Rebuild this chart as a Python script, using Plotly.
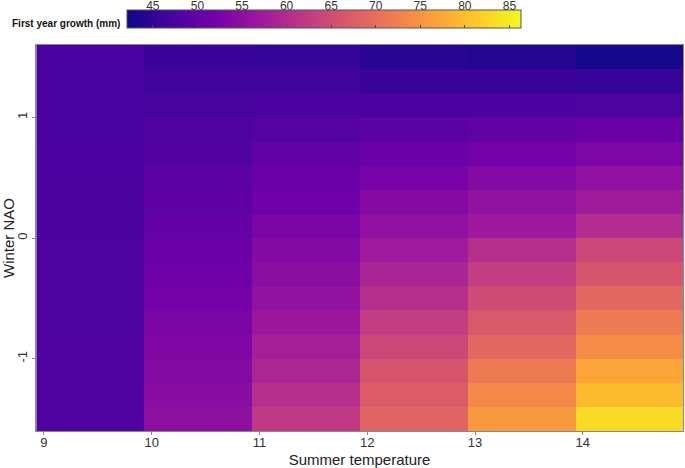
import numpy as np
import plotly.graph_objects as go

# Summer temperature (column centres) and winter NAO (row centres)
temps = [9.43, 10.43, 11.43, 12.43, 13.43, 14.43]
nao = [1.5, 1.3, 1.1, 0.9, 0.7, 0.5, 0.3, 0.1, -0.1, -0.3, -0.5, -0.7, -0.9, -1.1, -1.3, -1.5]

# first year growth (mm), one list per temperature column, top row (NAO 1.5) first
g09 = [47.3, 47.3, 47.4, 47.4, 47.5, 47.5, 47.6, 47.6, 47.7, 47.7, 47.8, 47.8, 47.9, 47.9, 48.0, 48.0]
g10 = [46.0, 46.6, 47.2, 47.9, 48.5, 49.2, 49.8, 50.4, 50.9, 51.5, 52.1, 52.8, 53.4, 54.0, 54.6, 55.2]
g11 = [45.5, 46.4, 47.5, 48.6, 50.0, 50.9, 51.5, 52.9, 54.0, 54.8, 55.7, 56.8, 58.0, 59.1, 60.6, 62.2]
g12 = [44.4, 46.0, 47.5, 49.3, 50.9, 52.6, 54.2, 55.3, 57.3, 58.8, 60.6, 62.6, 64.2, 66.4, 67.3, 68.6]
g13 = [44.0, 46.0, 47.5, 50.0, 52.0, 54.0, 55.7, 57.1, 60.6, 62.8, 64.8, 66.8, 69.0, 71.7, 73.5, 75.7]
g14 = [42.9, 45.5, 47.8, 50.9, 53.1, 55.3, 57.5, 60.2, 64.2, 66.4, 69.0, 71.7, 73.9, 77.0, 79.7, 83.2]

cbar_ticks = [45, 50, 55, 60, 65, 70, 75, 80, 85]
zmin, zmax = 42.1, 86.3

z = np.column_stack([g09, g10, g11, g12, g13, g14])

W, H = 685, 468
ml, mr, mt, mb = 36, 2, 4, 37
pw, ph = W - ml - mr, H - mt - mb
def py(px):  # pixel row -> paper y
    return (H - mb - px) / ph
def pxx(px):  # pixel col -> paper x
    return (px - ml) / pw

cb_left, cb_right, cb_top, cb_bot = 127, 521, 14, 32

fig = go.Figure()
fig.add_trace(go.Heatmap(
    x=temps, y=nao, z=z, colorscale='Plasma', zmin=zmin, zmax=zmax,
    colorbar=dict(orientation='h', lenmode='pixels', len=cb_right - cb_left,
                  thickness=cb_bot - cb_top, x=pxx(cb_left), xanchor='left',
                  y=py(cb_bot), yanchor='bottom', xpad=0, ypad=0,
                  outlinewidth=1, outlinecolor='#555', showticklabels=False,
                  tickvals=cbar_ticks, ticks='inside', ticklen=3, tickcolor='#444'),
))
# invisible points so the colour-key axis gets drawn
fig.add_trace(go.Scatter(x=cbar_ticks, y=[0.5] * len(cbar_ticks), xaxis='x2', yaxis='y2',
                         mode='markers', marker=dict(opacity=0), hoverinfo='skip',
                         showlegend=False))

axfont = dict(family='Liberation Sans, Arial', size=13, color='#333')
fig.update_layout(
    width=W, height=H, margin=dict(l=ml, r=mr, t=mt, b=mb, autoexpand=False),
    plot_bgcolor='white', paper_bgcolor='white',
    font=dict(family='Liberation Sans, Arial', color='#222'),
    xaxis=dict(range=[8.926, 14.93], tickvals=[9, 10, 11, 12, 13, 14],
               ticks='outside', ticklen=3, tickcolor='#888', tickfont=axfont,
               ticklabelstandoff=-4,
               showgrid=False, zeroline=False, showline=True, linecolor='#888',
               mirror=True, automargin=False,
               title=dict(text='Summer temperature', font=dict(size=15, color='#222'))),
    yaxis=dict(domain=[0, py(45)], range=[-1.6, 1.6], tickvals=[-1, 0, 1],
               ticktext=['-1', '0', '1'], tickangle=-90,
               ticks='outside', ticklen=3, tickcolor='#888', tickfont=axfont,
               showgrid=False, zeroline=False, showline=True, linecolor='#888',
               mirror=True, automargin=False,
               title=dict(text='Winter NAO', font=dict(size=15, color='#222'))),
    xaxis2=dict(domain=[pxx(cb_left), pxx(cb_right)], range=[zmin, zmax],
                anchor='y2', side='top', tickvals=cbar_ticks, ticks='inside',
                ticklen=3, tickcolor='#444', tickfont=dict(size=12, color='#333'),
                ticklabelstandoff=1,
                showgrid=False, zeroline=False, showline=False, automargin=False),
    yaxis2=dict(domain=[py(cb_bot), py(cb_top)], range=[0, 1], visible=False,
                anchor='x2', automargin=False),
)
fig.add_annotation(text='<b>First year growth (mm)</b>', xref='paper', yref='paper',
                   x=pxx(cb_left - 5), y=py((cb_top + cb_bot) / 2),
                   xanchor='right', yanchor='middle', showarrow=False,
                   font=dict(family='Liberation Sans, Arial', size=10, color='#111'))

fig.write_html("out.html", config={'displayModeBar': False},
               post_script="document.body.style.margin='0';")
